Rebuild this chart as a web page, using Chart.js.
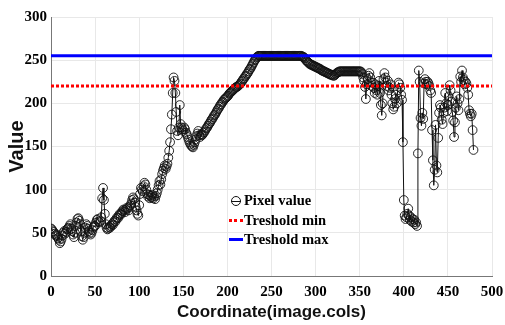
<!DOCTYPE html>
<html>
<head>
<meta charset="utf-8">
<script src="https://cdn.jsdelivr.net/npm/chart.js@4"></script>
<style>
  html, body { margin: 0; padding: 0; background: #fff; }
  #wrap { position: relative; width: 505px; height: 325px; }
  #legend { position: absolute; left: 229px; top: 191px; font: bold 14.5px "Liberation Serif", serif; color: #000; line-height: 19.5px; }
  #legend div { position: relative; padding-left: 15px; white-space: nowrap; }
  #legend .sw { position: absolute; left: 0; width: 14px; }
  .circ { top: 5px; width: 8px !important; height: 8px; border: 1px solid #111; border-radius: 50%; left: 2px !important; }
  .circ::after { content: ""; position: absolute; left: -1px; right: -1px; top: 3.5px; height: 1px; background: #111; }
  .red { top: 8px; height: 0; border-top: 3px dotted #ff0000; }
  .blue { top: 8px; height: 3px; background: #0000ff; }
</style>
</head>
<body>
<div id="wrap">
  <canvas id="chart" width="505" height="325"></canvas>
  <div id="legend">
    <div><span class="sw circ"></span>Pixel value</div>
    <div><span class="sw red"></span>Treshold min</div>
    <div><span class="sw blue"></span>Treshold max</div>
  </div>
</div>
<script>
// pixel values along the row, one per column (0..479)
const pixelValues = [
  55, 54, 52, 51, 49, 47, 48, 46, 44, 42,
  38, 40, 43, 47, 50, 52, 49, 51, 54, 55,
  56, 58, 60, 55, 52, 48, 45, 50, 58, 62,
  66, 67, 64, 60, 52, 46, 42, 45, 50, 56,
  60, 58, 55, 52, 50, 48, 50, 53, 56, 58,
  58, 62, 65, 66, 63, 62, 64, 68, 90, 102,
  88, 72, 60, 56, 54, 55, 57, 56, 58, 60,
  59, 62, 64, 63, 66, 68, 67, 70, 72, 71,
  73, 75, 77, 76, 74, 77, 79, 78, 76, 80,
  82, 84, 88, 91, 89, 85, 80, 76, 72, 70,
  82, 95, 102, 100, 98, 104, 108, 106, 100, 95,
  92, 94, 90, 93, 91, 94, 90, 92, 89, 93,
  96, 100, 105, 110, 106, 112, 118, 122, 125, 128,
  124, 127, 130, 137, 145, 155, 170, 187, 212, 230,
  226, 212, 190, 168, 163, 172, 198, 176, 172, 170,
  168, 172, 170, 166, 164, 161, 158, 155, 153, 151,
  150, 149, 152, 155, 158, 162, 165, 168, 163, 161,
  164, 163, 164, 166, 167, 169, 171, 172, 174, 176,
  177, 179, 181, 182, 184, 186, 187, 189, 191, 193,
  194, 196, 198, 199, 201, 202, 204, 205, 206, 207,
  208, 209, 211, 212, 213, 214, 215, 216, 217, 218,
  219, 219, 220, 221, 222, 223, 225, 226, 228, 229,
  231, 232, 234, 235, 237, 239, 240, 242, 244, 246,
  248, 250, 251, 253, 254, 255, 255, 255, 255, 255,
  255, 255, 255, 255, 255, 255, 255, 255, 255, 255,
  255, 255, 255, 255, 255, 255, 255, 255, 255, 255,
  255, 255, 255, 255, 255, 255, 255, 255, 255, 255,
  255, 255, 255, 255, 255, 255, 255, 255, 255, 255,
  255, 255, 255, 255, 255, 254, 254, 253, 252, 250,
  249, 248, 247, 246, 245, 245, 244, 244, 243, 243,
  242, 242, 241, 241, 240, 240, 239, 238, 238, 237,
  237, 236, 236, 235, 235, 234, 234, 233, 233, 233,
  232, 232, 233, 234, 235, 236, 236, 237, 237, 237,
  237, 237, 237, 237, 237, 237, 237, 237, 237, 237,
  237, 237, 237, 237, 237, 237, 237, 237, 237, 237,
  237, 237, 236, 234, 230, 226, 219, 205, 222, 228,
  232, 235, 230, 224, 220, 224, 218, 212, 222, 215,
  210, 220, 226, 212, 198, 186, 200, 228, 235, 230,
  224, 220, 226, 215, 218, 222, 210, 200, 193, 196,
  205, 210, 200, 215, 224, 222, 218, 210, 204, 155,
  88, 70, 66, 68, 72, 78, 70, 65, 68, 63,
  66, 62, 65, 60, 62, 58, 142, 238, 225, 183,
  174, 189, 182, 223, 228, 225, 222, 225, 223, 220,
  215, 212, 169, 134, 105, 123, 175, 128, 120, 160,
  189, 198, 195, 181, 176, 189, 195, 212, 200, 191,
  198, 208, 221, 215, 202, 190, 180, 161, 178, 195,
  208, 200, 192, 205, 231, 225, 238, 230, 227, 222,
  225, 223, 218, 210, 192, 188, 185, 188, 169, 146
];
const thresholdMin = 220;
const thresholdMax = 255;
const xRange = [0, 500];
const yRange = [0, 300];
const xTicks = [0, 50, 100, 150, 200, 250, 300, 350, 400, 450, 500];
const yTicks = [0, 50, 100, 150, 200, 250, 300];
const seriesLabels = ['Pixel value', 'Treshold min', 'Treshold max'];

const tickFont = { family: 'Liberation Serif', weight: 'bold', size: 15 };

const ctx = document.getElementById('chart').getContext('2d');
const chart = new Chart(ctx, {
  type: 'line',
  data: {
    datasets: [
      {
        label: seriesLabels[2],
        data: [{ x: xRange[0], y: thresholdMax }, { x: xRange[1], y: thresholdMax }],
        borderColor: '#0000ff',
        borderWidth: 3,
        pointRadius: 0,
        order: 0
      },
      {
        label: seriesLabels[1],
        data: [{ x: xRange[0], y: thresholdMin }, { x: xRange[1], y: thresholdMin }],
        borderColor: '#ff0000',
        borderWidth: 3,
        borderDash: [3, 2],
        pointRadius: 0,
        order: 1
      },
      {
        label: seriesLabels[0],
        data: pixelValues.map((v, i) => ({ x: i, y: v })),
        borderColor: '#111',
        borderWidth: 1,
        pointRadius: 4.4,
        pointBorderWidth: 0.9,
        pointBorderColor: '#111',
        pointBackgroundColor: 'rgba(0,0,0,0)',
        tension: 0,
        order: 2
      }
    ]
  },
  options: {
    responsive: false,
    animation: false,
    layout: { padding: { top: 17, right: 13, left: 0, bottom: 0 } },
    plugins: { legend: { display: false }, tooltip: { enabled: false } },
    scales: {
      x: {
        type: 'linear',
        min: xRange[0], max: xRange[1],
        afterBuildTicks: s => { s.ticks = xTicks.map(v => ({ value: v })); },
        afterFit: s => { s.height = 49; s.paddingRight = 0; s.paddingLeft = 0; },
        grid: { color: '#e8e8e8', drawTicks: false },
        border: { color: '#777', width: 1 },
        ticks: { font: tickFont, color: '#000', padding: 7, maxRotation: 0 },
        title: {
          display: true, text: 'Coordinate(image.cols)', color: '#111',
          font: { family: 'Liberation Sans', weight: 'bold', size: 17, lineHeight: 1 },
          padding: { top: 2, bottom: 4 }
        }
      },
      y: {
        min: yRange[0], max: yRange[1],
        afterBuildTicks: s => { s.ticks = yTicks.map(v => ({ value: v })); },
        afterFit: s => { s.width = 51; s.paddingTop = 0; s.paddingBottom = 0; },
        grid: { color: '#e8e8e8', drawTicks: false },
        border: { color: '#777', width: 1 },
        ticks: { font: tickFont, color: '#000', padding: 4 },
        title: {
          display: true, text: 'Value', color: '#111',
          font: { family: 'Liberation Sans', weight: 'bold', size: 20, lineHeight: 1 },
          padding: { top: 7, bottom: 7 }
        }
      }
    }
  }
});
</script>
</body>
</html>
